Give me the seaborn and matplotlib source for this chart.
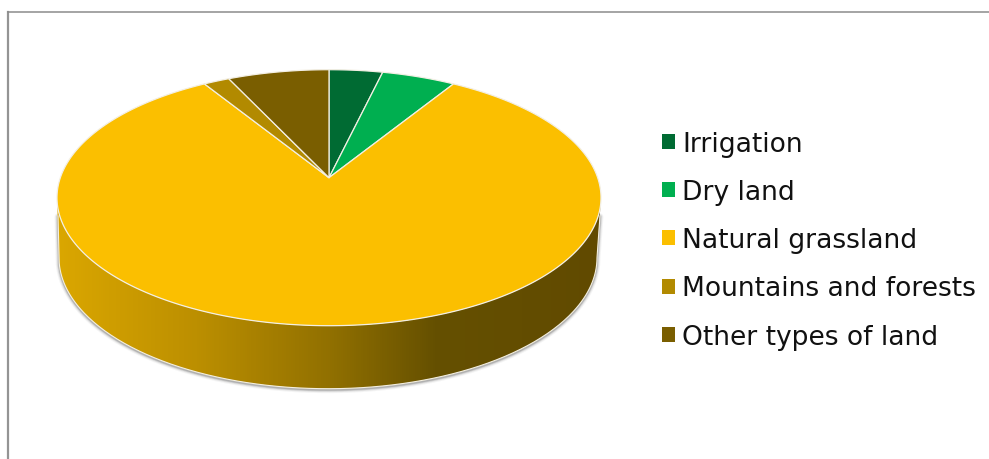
import numpy as np
import matplotlib
matplotlib.use("Agg")
import matplotlib.pyplot as plt
from matplotlib.colors import LinearSegmentedColormap
from matplotlib.patches import Patch, Polygon
import seaborn as sns

# Land use shares, percent
categories = ["Irrigation", "Dry land", "Natural grassland",
              "Mountains and forests", "Other types of land"]
shares = [3.7, 5.1, 82.4, 1.8, 7.0]
slice_colors = ["#006B33", "#00AF50", "#FBBF00", "#B28A00", "#7A5E00"]

sns.set_theme(style="white")
plt.rcParams["font.family"] = ["DejaVu Sans"]
palette = sns.color_palette(slice_colors)

W, H = 989, 460
fig = plt.figure(figsize=(W / 100, H / 100), dpi=100, facecolor="white")
left, top = 8.0, 12.5
ax = fig.add_axes([left / W, 0, 1 - left / W, 1 - top / H])
ax.set_xlim(left, W)
ax.set_ylim(H, top)
ax.set_xticks([])
ax.set_yticks([])
sns.despine(ax=ax, left=False, top=False, right=True, bottom=True)
ax.spines["left"].set(color="#949494", linewidth=1.6)
ax.spines["top"].set(color="#8c8c8c", linewidth=1.1)

# Perspective disc: the pie's centre sits above the middle of the ellipse
cx, apex_y = 329.0, 178.7
reach_up, reach_down, half_width = 108.0, 148.0, 272.0
k = (reach_down - reach_up) / (reach_down + reach_up)
b_scale = reach_up * (1 + k)
a_scale = half_width * np.sqrt(1 - k ** 2)


def on_disc(theta):
    """Project clockwise-from-top angles onto the tilted disc."""
    u, v = np.sin(theta), np.cos(theta)
    w = 1 + k * v
    return cx + a_scale * u / w, apex_y - b_scale * v / w


# Side wall: lower rim plus the visible front of the top rim
top_cy = apex_y + (reach_down - reach_up) / 2
low_cx, low_cy, low_a, low_b = 328.0, 258.7, 269.0, 131.0
t = np.linspace(np.pi, 0, 240)
low_x, low_y = low_cx + low_a * np.cos(t), low_cy + low_b * np.sin(t)
rim_half = (reach_up + reach_down) / 2
top_x = cx + half_width * np.cos(t[::-1])
top_y = top_cy + rim_half * np.sin(t[::-1])
wall_xy = np.r_[np.c_[low_x, low_y], np.c_[top_x, top_y]]

# Outer silhouette of the wall, starting just below the rim on each side
edge_x = np.r_[cx - half_width + 1.0, low_x, cx + half_width - 1.0]
edge_y = np.r_[top_cy + 18, low_y, top_cy + 18]

# Soft shadow around the sides and lower edge of the wall
for lw, alpha in [(5.0, 0.05), (3.6, 0.09), (2.4, 0.14), (1.4, 0.2)]:
    ax.plot(edge_x, edge_y + 1.0, color="#404040", lw=lw, alpha=alpha,
            solid_capstyle="round", zorder=1)

wall_cmap = LinearSegmentedColormap.from_list(
    "wall",
    [(0.0, "#DCA800"), (0.26, "#BC8F00"), (0.50, "#917000"),
     (0.69, "#655000"), (1.0, "#614A00")],
)
gradient = np.linspace(0, 1, 560)[None, :]
wall_img = ax.imshow(gradient, cmap=wall_cmap, vmin=0, vmax=1, aspect="auto",
                     extent=(50, 610, 400, 190), zorder=2)
wall_patch = Polygon(wall_xy, closed=True, transform=ax.transData,
                     facecolor="none", edgecolor="none")
ax.add_patch(wall_patch)
wall_img.set_clip_path(wall_patch)
ax.set_xlim(left, W)
ax.set_ylim(H, top)
ax.plot(edge_x, edge_y, color="#f4efe0", lw=0.8, zorder=3)

# Top face: slices run clockwise from twelve o'clock
edges = np.r_[0, np.cumsum(shares)] / np.sum(shares) * 2 * np.pi
for start, stop, color in zip(edges[:-1], edges[1:], palette):
    theta = np.linspace(start, stop, max(8, int((stop - start) * 120)))
    x, y = on_disc(theta)
    ax.fill(np.r_[cx, x], np.r_[apex_y, y], facecolor=color,
            edgecolor="#f3efe4", linewidth=0.9, joinstyle="round", zorder=4)

handles = [Patch(facecolor=c, edgecolor="none") for c in palette]
ax.legend(handles, categories, loc="upper left", frameon=False,
          bbox_to_anchor=(662, 132), bbox_transform=ax.transData,
          fontsize=19.1, labelcolor="#111111", handlelength=0.49,
          handleheight=0.49, handletextpad=0.27, labelspacing=0.835,
          borderpad=0, borderaxespad=0)

fig.savefig("out.png", dpi=100, facecolor="white")
